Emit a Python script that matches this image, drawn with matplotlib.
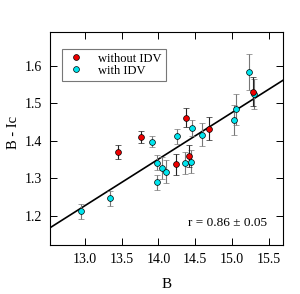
import numpy as np
import matplotlib.pyplot as plt
from matplotlib.lines import Line2D

plt.rcParams['font.family'] = ['Liberation Serif', 'DejaVu Serif']

# sources without intraday variability
b_noidv = [13.45, 13.77, 14.24, 14.37, 14.41, 14.68, 15.28]
bi_noidv = [1.370, 1.411, 1.338, 1.462, 1.360, 1.433, 1.532]
err_noidv = [0.018, 0.016, 0.028, 0.026, 0.030, 0.030, 0.040]

# sources with intraday variability
b_idv = [12.95, 13.34, 13.91, 13.98, 13.98, 14.045, 14.10, 14.25,
         14.36, 14.44, 14.46, 14.59, 15.03, 15.05, 15.23, 15.29]
bi_idv = [1.212, 1.247, 1.398, 1.342, 1.290, 1.327, 1.318, 1.413,
          1.341, 1.345, 1.434, 1.417, 1.455, 1.484, 1.584, 1.526]
err_idv = [0.020, 0.020, 0.015, 0.020, 0.020, 0.030, 0.030, 0.020,
           0.030, 0.030, 0.021, 0.030, 0.040, 0.042, 0.047, 0.040]

# linear fit shown in the figure
fit_slope = 0.1247
fit_icpt = 1.168 - 0.1247 * 12.53

fig = plt.figure(figsize=(3.0, 2.94), dpi=100)
ax = fig.add_axes([50 / 300, 1 - 245 / 294, 233 / 300, 213 / 294])

ax.errorbar(b_idv, bi_idv, yerr=err_idv, fmt='o', color='#00e5ee',
            mec='black', mew=0.5, ms=4.2, ecolor='#777777', elinewidth=0.8,
            capsize=2.5, capthick=0.8, zorder=3)
ax.errorbar(b_noidv, bi_noidv, yerr=err_noidv, fmt='o', color='#ee0000',
            mec='black', mew=0.5, ms=4.2, ecolor='#222222', elinewidth=0.8,
            capsize=2.5, capthick=0.8, zorder=3)

xs = np.array([12.53, 15.69])
ax.plot(xs, fit_icpt + fit_slope * xs, color='black', lw=1.2, zorder=2)

ax.set_xlim(12.53, 15.69)
ax.set_ylim(1.122, 1.691)
ax.set_xticks([13.0, 13.5, 14.0, 14.5, 15.0, 15.5])
ax.set_yticks([1.2, 1.3, 1.4, 1.5, 1.6])
ax.tick_params(direction='in', top=True, right=True, length=5, width=0.7,
               labelsize=10, pad=6)
for s in ax.spines.values():
    s.set_linewidth(0.8)

ax.set_xlabel('B', fontsize=11)
ax.set_ylabel('B - Ic', fontsize=10.5)
ax.xaxis.set_label_coords(0.5, -0.155)
ax.yaxis.set_label_coords(-0.13, 0.53)

ax.text(15.47, 1.181, 'r = 0.86 \u00b1 0.05', ha='right', va='center',
        fontsize=9.5)

handles = [
    Line2D([], [], ls='none', marker='o', ms=4.2, mfc='#ee0000',
           mec='black', mew=0.5, label='without IDV'),
    Line2D([], [], ls='none', marker='o', ms=4.2, mfc='#00e5ee',
           mec='black', mew=0.5, label='with IDV'),
]
leg = ax.legend(handles=handles, loc='upper left',
                bbox_to_anchor=(12 / 233, 1 - 17 / 213), fontsize=9,
                fancybox=False, edgecolor='#555555', borderpad=0.3,
                handletextpad=1.0, labelspacing=0.0, handlelength=1.6,
                borderaxespad=0)
leg.get_frame().set_linewidth(0.8)

fig.savefig('out.png', dpi=100)
